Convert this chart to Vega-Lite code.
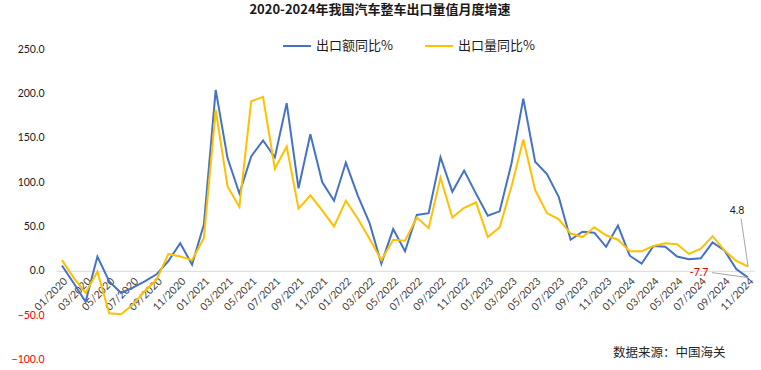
{
  "$schema": "https://vega.github.io/schema/vega-lite/v6.json",
  "width": 698,
  "height": 310.5,
  "autosize": {"type": "none"},
  "padding": {"left": 56, "top": 49, "right": 7, "bottom": 10.5},
  "background": "white",
  "config": {"view": {"stroke": null}, "font": "Lato"},
  "title": {
    "text": "2020-2024年我国汽车整车出口量值月度增速",
    "font": "Noto Sans CJK SC",
    "fontSize": 13,
    "fontWeight": "bold",
    "color": "#1a1a1a",
    "anchor": "middle",
    "dx": -25,
    "offset": 14
  },
  "datasets": {
    "series": [
      {"m": "01/2020", "s": "出口额同比%", "v": 6},
      {"m": "02/2020", "s": "出口额同比%", "v": -14},
      {"m": "03/2020", "s": "出口额同比%", "v": -35},
      {"m": "04/2020", "s": "出口额同比%", "v": 16},
      {"m": "05/2020", "s": "出口额同比%", "v": -12},
      {"m": "06/2020", "s": "出口额同比%", "v": -25},
      {"m": "07/2020", "s": "出口额同比%", "v": -19},
      {"m": "08/2020", "s": "出口额同比%", "v": -12},
      {"m": "09/2020", "s": "出口额同比%", "v": -4},
      {"m": "10/2020", "s": "出口额同比%", "v": 11},
      {"m": "11/2020", "s": "出口额同比%", "v": 31},
      {"m": "12/2020", "s": "出口额同比%", "v": 7},
      {"m": "01/2021", "s": "出口额同比%", "v": 52},
      {"m": "02/2021", "s": "出口额同比%", "v": 204},
      {"m": "03/2021", "s": "出口额同比%", "v": 127},
      {"m": "04/2021", "s": "出口额同比%", "v": 87},
      {"m": "05/2021", "s": "出口额同比%", "v": 129},
      {"m": "06/2021", "s": "出口额同比%", "v": 147},
      {"m": "07/2021", "s": "出口额同比%", "v": 128},
      {"m": "08/2021", "s": "出口额同比%", "v": 189},
      {"m": "09/2021", "s": "出口额同比%", "v": 93},
      {"m": "10/2021", "s": "出口额同比%", "v": 154},
      {"m": "11/2021", "s": "出口额同比%", "v": 100},
      {"m": "12/2021", "s": "出口额同比%", "v": 79},
      {"m": "01/2022", "s": "出口额同比%", "v": 122},
      {"m": "02/2022", "s": "出口额同比%", "v": 85},
      {"m": "03/2022", "s": "出口额同比%", "v": 54},
      {"m": "04/2022", "s": "出口额同比%", "v": 8},
      {"m": "05/2022", "s": "出口额同比%", "v": 47},
      {"m": "06/2022", "s": "出口额同比%", "v": 22},
      {"m": "07/2022", "s": "出口额同比%", "v": 63},
      {"m": "08/2022", "s": "出口额同比%", "v": 65},
      {"m": "09/2022", "s": "出口额同比%", "v": 128},
      {"m": "10/2022", "s": "出口额同比%", "v": 89},
      {"m": "11/2022", "s": "出口额同比%", "v": 113},
      {"m": "12/2022", "s": "出口额同比%", "v": 87},
      {"m": "01/2023", "s": "出口额同比%", "v": 62},
      {"m": "02/2023", "s": "出口额同比%", "v": 67},
      {"m": "03/2023", "s": "出口额同比%", "v": 121},
      {"m": "04/2023", "s": "出口额同比%", "v": 194},
      {"m": "05/2023", "s": "出口额同比%", "v": 123},
      {"m": "06/2023", "s": "出口额同比%", "v": 109},
      {"m": "07/2023", "s": "出口额同比%", "v": 83},
      {"m": "08/2023", "s": "出口额同比%", "v": 35},
      {"m": "09/2023", "s": "出口额同比%", "v": 44},
      {"m": "10/2023", "s": "出口额同比%", "v": 43},
      {"m": "11/2023", "s": "出口额同比%", "v": 27},
      {"m": "12/2023", "s": "出口额同比%", "v": 51},
      {"m": "01/2024", "s": "出口额同比%", "v": 17},
      {"m": "02/2024", "s": "出口额同比%", "v": 8},
      {"m": "03/2024", "s": "出口额同比%", "v": 28},
      {"m": "04/2024", "s": "出口额同比%", "v": 27},
      {"m": "05/2024", "s": "出口额同比%", "v": 16},
      {"m": "06/2024", "s": "出口额同比%", "v": 13},
      {"m": "07/2024", "s": "出口额同比%", "v": 14},
      {"m": "08/2024", "s": "出口额同比%", "v": 32},
      {"m": "09/2024", "s": "出口额同比%", "v": 23},
      {"m": "10/2024", "s": "出口额同比%", "v": 2},
      {"m": "11/2024", "s": "出口额同比%", "v": -7.7},
      {"m": "01/2020", "s": "出口量同比%", "v": 12},
      {"m": "02/2020", "s": "出口量同比%", "v": -8},
      {"m": "03/2020", "s": "出口量同比%", "v": -25},
      {"m": "04/2020", "s": "出口量同比%", "v": -1},
      {"m": "05/2020", "s": "出口量同比%", "v": -48},
      {"m": "06/2020", "s": "出口量同比%", "v": -49},
      {"m": "07/2020", "s": "出口量同比%", "v": -38},
      {"m": "08/2020", "s": "出口量同比%", "v": -23},
      {"m": "09/2020", "s": "出口量同比%", "v": -10},
      {"m": "10/2020", "s": "出口量同比%", "v": 19},
      {"m": "11/2020", "s": "出口量同比%", "v": 16},
      {"m": "12/2020", "s": "出口量同比%", "v": 12},
      {"m": "01/2021", "s": "出口量同比%", "v": 37},
      {"m": "02/2021", "s": "出口量同比%", "v": 181},
      {"m": "03/2021", "s": "出口量同比%", "v": 95},
      {"m": "04/2021", "s": "出口量同比%", "v": 72},
      {"m": "05/2021", "s": "出口量同比%", "v": 191},
      {"m": "06/2021", "s": "出口量同比%", "v": 196},
      {"m": "07/2021", "s": "出口量同比%", "v": 115},
      {"m": "08/2021", "s": "出口量同比%", "v": 140},
      {"m": "09/2021", "s": "出口量同比%", "v": 70},
      {"m": "10/2021", "s": "出口量同比%", "v": 85},
      {"m": "11/2021", "s": "出口量同比%", "v": 68},
      {"m": "12/2021", "s": "出口量同比%", "v": 50},
      {"m": "01/2022", "s": "出口量同比%", "v": 79},
      {"m": "02/2022", "s": "出口量同比%", "v": 59},
      {"m": "03/2022", "s": "出口量同比%", "v": 36},
      {"m": "04/2022", "s": "出口量同比%", "v": 12},
      {"m": "05/2022", "s": "出口量同比%", "v": 35},
      {"m": "06/2022", "s": "出口量同比%", "v": 34},
      {"m": "07/2022", "s": "出口量同比%", "v": 60},
      {"m": "08/2022", "s": "出口量同比%", "v": 48},
      {"m": "09/2022", "s": "出口量同比%", "v": 105},
      {"m": "10/2022", "s": "出口量同比%", "v": 60},
      {"m": "11/2022", "s": "出口量同比%", "v": 71},
      {"m": "12/2022", "s": "出口量同比%", "v": 77},
      {"m": "01/2023", "s": "出口量同比%", "v": 38},
      {"m": "02/2023", "s": "出口量同比%", "v": 49},
      {"m": "03/2023", "s": "出口量同比%", "v": 95},
      {"m": "04/2023", "s": "出口量同比%", "v": 148},
      {"m": "05/2023", "s": "出口量同比%", "v": 91},
      {"m": "06/2023", "s": "出口量同比%", "v": 65},
      {"m": "07/2023", "s": "出口量同比%", "v": 58},
      {"m": "08/2023", "s": "出口量同比%", "v": 42},
      {"m": "09/2023", "s": "出口量同比%", "v": 38},
      {"m": "10/2023", "s": "出口量同比%", "v": 49},
      {"m": "11/2023", "s": "出口量同比%", "v": 40},
      {"m": "12/2023", "s": "出口量同比%", "v": 35},
      {"m": "01/2024", "s": "出口量同比%", "v": 22},
      {"m": "02/2024", "s": "出口量同比%", "v": 22},
      {"m": "03/2024", "s": "出口量同比%", "v": 28},
      {"m": "04/2024", "s": "出口量同比%", "v": 31},
      {"m": "05/2024", "s": "出口量同比%", "v": 30},
      {"m": "06/2024", "s": "出口量同比%", "v": 19},
      {"m": "07/2024", "s": "出口量同比%", "v": 25},
      {"m": "08/2024", "s": "出口量同比%", "v": 39},
      {"m": "09/2024", "s": "出口量同比%", "v": 23},
      {"m": "10/2024", "s": "出口量同比%", "v": 11},
      {"m": "11/2024", "s": "出口量同比%", "v": 4.8}
    ]
  },
  "layer": [
    {
      "data": {"name": "series"},
      "mark": {"type": "line", "strokeWidth": 2},
      "encoding": {
        "x": {
          "field": "m",
          "type": "ordinal",
          "sort": null,
          "scale": {
            "type": "point",
            "padding": 0.5,
            "domain": ["01/2020","02/2020","03/2020","04/2020","05/2020","06/2020","07/2020","08/2020","09/2020","10/2020","11/2020","12/2020","01/2021","02/2021","03/2021","04/2021","05/2021","06/2021","07/2021","08/2021","09/2021","10/2021","11/2021","12/2021","01/2022","02/2022","03/2022","04/2022","05/2022","06/2022","07/2022","08/2022","09/2022","10/2022","11/2022","12/2022","01/2023","02/2023","03/2023","04/2023","05/2023","06/2023","07/2023","08/2023","09/2023","10/2023","11/2023","12/2023","01/2024","02/2024","03/2024","04/2024","05/2024","06/2024","07/2024","08/2024","09/2024","10/2024","11/2024"]
          },
          "axis": {
            "title": null,
            "values": ["01/2020","03/2020","05/2020","07/2020","09/2020","11/2020","01/2021","03/2021","05/2021","07/2021","09/2021","11/2021","01/2022","03/2022","05/2022","07/2022","09/2022","11/2022","01/2023","03/2023","05/2023","07/2023","09/2023","11/2023","01/2024","03/2024","05/2024","07/2024","09/2024","11/2024"],
            "labelAngle": -45,
            "offset": -88.7,
            "ticks": false,
            "grid": false,
            "domainColor": "#d9d9d9",
            "domainWidth": 1,
            "labelFont": "Lato",
            "labelFontSize": 10.5,
            "labelColor": "#404040",
            "labelPadding": 5
          }
        },
        "y": {
          "field": "v",
          "type": "quantitative",
          "scale": {"domain": [-100, 250], "nice": false, "zero": false},
          "axis": {
            "title": null,
            "values": [-100, -50, 0, 50, 100, 150, 200, 250],
            "format": ".1f",
            "grid": false,
            "ticks": false,
            "domain": false,
            "labelFont": "Lato",
            "labelFontSize": 10.5,
            "labelPadding": 12,
            "labelColor": {"condition": {"test": "datum.value < 0", "value": "#ff0000"}, "value": "#1a1a1a"}
          }
        },
        "color": {
          "field": "s",
          "type": "nominal",
          "scale": {"domain": ["出口额同比%", "出口量同比%"], "range": ["#4472C4", "#FFC000"]},
          "legend": {
            "title": null,
            "orient": "none",
            "direction": "horizontal",
            "legendX": 226,
            "legendY": -18,
            "symbolType": "stroke",
            "symbolSize": 784,
            "symbolStrokeWidth": 2,
            "labelFont": "Noto Sans CJK SC",
            "labelFontSize": 13,
            "labelColor": "#1a1a1a",
            "labelOffset": 4,
            "columnPadding": 28,
            "padding": 0
          }
        }
      }
    },
    {
      "data": {"values": [{"m": "11/2024", "v": 4.8}]},
      "mark": {"type": "rule", "color": "#a6a6a6", "strokeWidth": 1, "x2Offset": -7, "y2Offset": -48},
      "encoding": {
        "x": {"field": "m", "type": "ordinal", "sort": null},
        "y": {"field": "v", "type": "quantitative"},
        "x2": {"field": "m"},
        "y2": {"field": "v"}
      }
    },
    {
      "data": {"values": [{"m": "11/2024", "v": -7.7}]},
      "mark": {"type": "rule", "color": "#a6a6a6", "strokeWidth": 1, "x2Offset": -36, "y2Offset": -5},
      "encoding": {
        "x": {"field": "m", "type": "ordinal", "sort": null},
        "y": {"field": "v", "type": "quantitative"},
        "x2": {"field": "m"},
        "y2": {"field": "v"}
      }
    },
    {
      "data": {"values": [{"m": "11/2024", "v": 4.8, "t": "4.8"}]},
      "mark": {"type": "text", "dx": -11, "dy": -56, "font": "Lato", "fontSize": 10.5, "color": "#1a1a1a"},
      "encoding": {
        "x": {"field": "m", "type": "ordinal", "sort": null},
        "y": {"field": "v", "type": "quantitative"},
        "text": {"field": "t"}
      }
    },
    {
      "data": {"values": [{"m": "11/2024", "v": -7.7, "t": "-7.7"}]},
      "mark": {"type": "text", "dx": -49, "dy": -5, "font": "Lato", "fontSize": 10.5, "color": "#e00000"},
      "encoding": {
        "x": {"field": "m", "type": "ordinal", "sort": null},
        "y": {"field": "v", "type": "quantitative"},
        "text": {"field": "t"}
      }
    },
    {
      "data": {"values": [{"m": "04/2024", "v": -93, "t": "数据来源：中国海关"}]},
      "mark": {"type": "text", "dx": 4, "font": "Noto Sans CJK SC", "fontSize": 12.5, "color": "#262626"},
      "encoding": {
        "x": {"field": "m", "type": "ordinal", "sort": null},
        "y": {"field": "v", "type": "quantitative"},
        "text": {"field": "t"}
      }
    }
  ]
}
